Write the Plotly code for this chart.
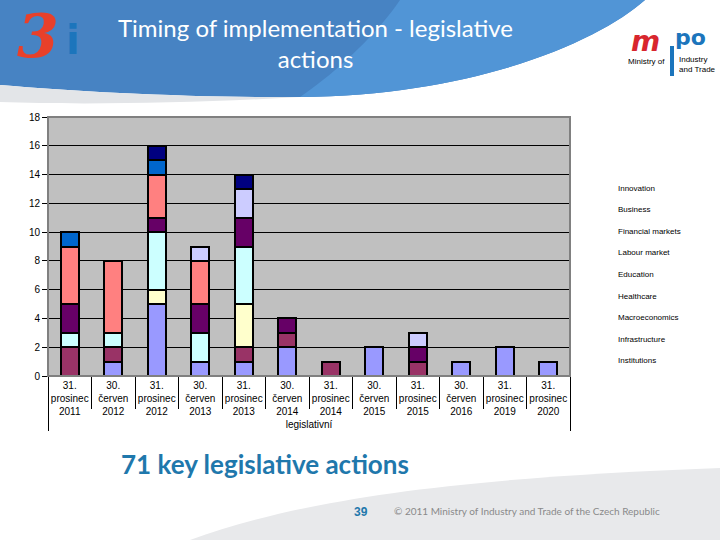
import plotly.graph_objects as go

# ---------------- data ----------------
categories = ["31.<br>prosinec<br>2011", "30.<br>červen<br>2012", "31.<br>prosinec<br>2012",
              "30.<br>červen<br>2013", "31.<br>prosinec<br>2013", "30.<br>červen<br>2014",
              "31.<br>prosinec<br>2014", "30.<br>červen<br>2015", "31.<br>prosinec<br>2015",
              "30.<br>červen<br>2016", "31.<br>prosinec<br>2019", "31.<br>prosinec<br>2020"]
group_label = "legislativní"

institutions       = [0, 1, 5, 1, 1, 2, 0, 2, 0, 1, 2, 1]
infrastructure     = [2, 1, 0, 0, 1, 1, 1, 0, 1, 0, 0, 0]
macroeconomics     = [0, 0, 1, 0, 3, 0, 0, 0, 0, 0, 0, 0]
healthcare         = [1, 1, 4, 2, 4, 0, 0, 0, 0, 0, 0, 0]
education          = [2, 0, 1, 2, 2, 1, 0, 0, 1, 0, 0, 0]
labour_market      = [4, 5, 3, 3, 0, 0, 0, 0, 0, 0, 0, 0]
financial_markets  = [1, 0, 1, 0, 0, 0, 0, 0, 0, 0, 0, 0]
business           = [0, 0, 0, 1, 2, 0, 0, 0, 1, 0, 0, 0]
innovation         = [0, 0, 1, 0, 1, 0, 0, 0, 0, 0, 0, 0]

series_names = ["Institutions", "Infrastructure", "Macroeconomics", "Healthcare", "Education",
                "Labour market", "Financial markets", "Business", "Innovation"]
series_values = [institutions, infrastructure, macroeconomics, healthcare, education,
                 labour_market, financial_markets, business, innovation]
series_colors = ["#9999FF", "#993366", "#FFFFCC", "#CCFFFF", "#660066",
                 "#FF8080", "#0066CC", "#CCCCFF", "#000080"]

title_text = "Timing of implementation - legislative<br>actions"
subtitle_text = "71 key legislative actions"
page_number = "39"
copyright_text = "© 2011 Ministry of Industry and Trade of the Czech Republic"

# ---------------- layout helpers ----------------
W, H = 720, 540
L, R, T, B = 48, 570, 117, 376


def X(px):
    return (px - L) / (R - L)


def Y(py):
    return (B - py) / (B - T)


def P(*pts):
    return " ".join(f"{X(a):.4f},{Y(b):.4f}" for a, b in pts)


def txt(text, x, y, size, color, family="Liberation Sans", xanchor="center", align="center"):
    return dict(text=text, x=X(x), y=Y(y), xref="paper", yref="paper", showarrow=False,
                xanchor=xanchor, yanchor="middle", align=align,
                font=dict(family=family, size=size, color=color))


fig = go.Figure()
xcat = [[group_label] * len(categories), categories]
for name, vals, col in zip(series_names, series_values, series_colors):
    fig.add_trace(go.Bar(
        x=xcat, y=vals, name=name,
        marker=dict(color=col, line=dict(color="black", width=2)),
        showlegend=False,
    ))

shapes = []
shapes.append(dict(type="path", xref="paper", yref="paper", layer="below",
                   path=f"M {P((0,0))} L {P((645,0))} C {P((600,40),(480,95),(300,97))} "
                        f"C {P((200,98),(80,92),(0,85))} Z",
                   fillcolor="#4783C3", line=dict(width=0)))
shapes.append(dict(type="path", xref="paper", yref="paper", layer="below",
                   path=f"M {P((400,0))} L {P((645,0))} C {P((600,40),(480,95),(300,97))} "
                        f"C {P((340,70),(380,30),(400,0))} Z",
                   fillcolor="#5195D6", line=dict(width=0)))
shapes.append(dict(type="path", xref="paper", yref="paper", layer="below",
                   path=f"M {P((0,85))} C {P((80,92),(200,98),(300,97))} "
                        f"C {P((200,103),(80,105),(0,102))} Z",
                   fillcolor="#E3E5E8", line=dict(width=0)))
shapes.append(dict(type="path", xref="paper", yref="paper", layer="below",
                   path=f"M {P((190,540))} C {P((300,500),(450,478),(720,468))} L {P((720,540))} Z",
                   fillcolor="#E8E9EB", line=dict(width=0)))
shapes.append(dict(type="rect", xref="paper", yref="paper", x0=0, x1=1, y0=0, y1=1,
                   line=dict(color="#808080", width=2), layer="above"))
shapes.append(dict(type="rect", xref="paper", yref="paper",
                   x0=X(670), x1=X(674), y0=Y(76), y1=Y(46),
                   fillcolor="#1C75BC", line=dict(width=0)))

annotations = [
    txt(title_text, 315, 43, 24, "white", family="Lato"),
    txt(f"<b>{subtitle_text}</b>", 119, 464, 26, "#1F78AC", family="Lato", xanchor="left"),
    txt(f"<b>{page_number}</b>", 361, 512, 12, "#1F78AC"),
    txt(copyright_text, 392, 511, 10, "#8A8A8A", family="Lato", xanchor="left"),
    txt("<b><i>3</i></b>", 38, 36, 60, "#E8402A", family="DejaVu Serif"),
    txt("<b>i</b>", 73, 40, 40, "#1C75BC", family="DejaVu Sans"),
    txt("<b><i>m</i></b>", 645, 42, 28, "#D8262E", family="DejaVu Sans"),
    txt("<b>po</b>", 690, 38, 22, "#1C75BC", family="DejaVu Sans"),
    txt("Ministry of", 667, 62, 8, "black", family="Liberation Sans", xanchor="right"),
    txt("Industry<br>and Trade", 677, 65, 8, "black", family="Liberation Sans",
        xanchor="left", align="left"),
]
for i, name in enumerate(reversed(series_names)):
    annotations.append(txt(name, 616, 188 + i * 21.6, 8, "black", xanchor="left"))

fig.update_layout(
    width=W, height=H, autosize=False,
    margin=dict(l=L, r=W - R, t=T, b=H - B, pad=0),
    paper_bgcolor="white", plot_bgcolor="#C0C0C0",
    barmode="stack", bargap=0.59,
    shapes=shapes, annotations=annotations,
    font=dict(family="Liberation Sans", size=10, color="black"),
)
fig.update_yaxes(range=[0, 18], dtick=2, showgrid=True, gridcolor="black", gridwidth=1,
                 showline=True, linecolor="black", linewidth=1, ticks="outside", ticklen=5,
                 tickcolor="black", tickfont=dict(size=10, family="Liberation Sans"),
                 zeroline=False, fixedrange=True, automargin=False)
fig.update_xaxes(type="multicategory", showline=True, linecolor="black", linewidth=1,
                 ticks="outside", ticklen=32, tickcolor="black", tickson="boundaries",
                 tickangle=0, automargin=False,
                 showdividers=True, dividercolor="black", dividerwidth=1,
                 tickfont=dict(size=10, family="Liberation Sans"), showgrid=False)

fig.write_html("out.html", config={"displayModeBar": False},
               post_script="document.body.style.margin='0px';")
